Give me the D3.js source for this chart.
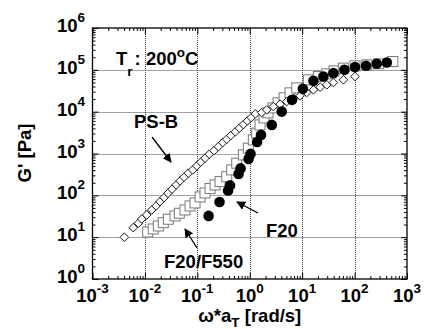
<!DOCTYPE html>
<html><head><meta charset="utf-8">
<script src="https://cdn.jsdelivr.net/npm/d3@7"></script>
<style>body{margin:0;background:#fff}svg{display:block}</style>
</head><body>
<script>
// PS-B (open diamonds)
const psbX = [0.00405,0.0060,0.0075,0.0087,0.0108,0.0135,0.0163,0.0194,0.0232,0.0276,0.0329,0.0393,0.0468,0.0557,0.0673,0.0817,0.0975,0.116,0.140,0.169,0.208,0.252,0.305,0.364,0.434,0.531,0.634,0.755,0.900,1.07,1.28,1.69,2.11,2.82,3.79,5.08,6.79,9.12,12.2,16.4,22.0,29.5,39.4,61.1,102];
const psbY = [9.95,16.9,21.5,27.2,34,44.7,55.7,70.7,88,112,140,177,221,271,338,405,505,620,772,962,1173,1462,1823,2198,2680,3289,4027,4912,6026,7228,8850,9510,11050,13240,15100,17450,20570,23880,28650,33240,38550,43750,49660,57680,69180];
// F20/F550 (open squares)
const f550X = [0.0113,0.0144,0.0180,0.0224,0.0280,0.0375,0.0453,0.0582,0.0726,0.0904,0.113,0.140,0.175,0.218,0.271,0.364,0.453,0.565,0.755,0.940,1.17,1.36,1.57,1.87,2.23,2.79,3.47,4.52,5.87,7.89,13.1,20.4,29.5,40.6,61.1,102,171,284,536];
const f550Y = [13.3,15.7,18.5,22.2,26.8,32.2,37.3,44.7,55.8,65.8,91.6,114,146,177,213,280,405,586,926,1340,2115,3061,4831,7110,9360,12330,16240,21380,28170,37090,57650,69180,80190,94600,109900,124700,131800,139200,158000];
// F20 (filled circles)
const f20X = [0.164,0.265,0.386,0.421,0.611,0.667,0.948,1.035,1.38,1.64,2.63,4.08,6.41,10.3,16.4,25.4,39.4,63.8,102,166,265,412];
const f20Y = [32.2,69.5,131,173,325,440,743,978,1895,2786,4831,10050,19150,35090,54580,69180,83370,100000,116100,124700,139200,149500];
const xTickExps = [-3,-2,-1,0,1,2,3];
const yTickExps = [0,1,2,3,4,5,6];

const W = 424, H = 329;
const L = 92.5, R = 407, T = 28, B = 279;
const FONT = "'Liberation Sans', Arial, sans-serif";
const FS = 18.5, FSS = 13.5;
const svg = d3.select("body").append("svg").attr("width", W).attr("height", H)
  .style("font-family", FONT).style("font-weight", "bold");

const x = d3.scaleLog().domain([1e-3, 1e3]).range([L, R]);
const y = d3.scaleLog().domain([1, 1e6]).range([B, T]);

function minors(lo, hi) {
  const out = [];
  for (let e = lo; e < hi; e++) for (let m = 2; m <= 9; m++) out.push(m * Math.pow(10, e));
  return out;
}
const xMinor = minors(-3, 3), yMinor = minors(0, 6);
const xMajor = xTickExps.map(e => Math.pow(10, e)), yMajor = yTickExps.map(e => Math.pow(10, e));

// grid
const grid = svg.append("g").attr("stroke", "#444").attr("stroke-width", 1).attr("stroke-dasharray", "1,1");
grid.selectAll("line.gx").data(xMajor.slice(1, -1)).join("line")
  .attr("x1", d => Math.round(x(d)) + 0.5).attr("x2", d => Math.round(x(d)) + 0.5).attr("y1", T).attr("y2", B);
grid.selectAll("line.gy").data(yMajor.slice(1, -1)).join("line")
  .attr("y1", d => Math.round(y(d)) + 0.5).attr("y2", d => Math.round(y(d)) + 0.5).attr("x1", L).attr("x2", R);

// ticks (inward, all four sides)
function addAxis(axisFn, scale, vals, size, tr) {
  const g = svg.append("g").attr("transform", tr)
    .call(axisFn(scale).tickValues(vals).tickSize(-size).tickFormat(""));
  g.select(".domain").remove();
  g.selectAll("line").attr("stroke", "#000");
}
[[d3.axisBottom, x, `translate(0,${B})`], [d3.axisTop, x, `translate(0,${T})`]].forEach(([f, s, tr]) => {
  addAxis(f, s, xMinor, 3, tr); addAxis(f, s, xMajor, 6, tr);
});
[[d3.axisLeft, y, `translate(${L},0)`], [d3.axisRight, y, `translate(${R},0)`]].forEach(([f, s, tr]) => {
  addAxis(f, s, yMinor, 3, tr); addAxis(f, s, yMajor, 6, tr);
});
svg.append("rect").attr("x", L).attr("y", T).attr("width", R - L).attr("height", B - T)
  .attr("fill", "none").attr("stroke", "#000").attr("stroke-width", 1.3);

// tick labels
const xl = svg.append("g");
xTickExps.forEach(e => {
  const t = xl.append("text").attr("x", x(Math.pow(10, e))).attr("y", 302).attr("text-anchor", "middle")
    .attr("font-size", FS);
  t.append("tspan").text("10");
  t.append("tspan").attr("dy", -9.5).attr("font-size", FSS).text(String(e));
});
yTickExps.forEach(e => {
  const t = xl.append("text").attr("x", 85).attr("y", y(Math.pow(10, e)) + 4).attr("text-anchor", "end")
    .attr("font-size", FS);
  t.append("tspan").text("10");
  t.append("tspan").attr("dy", -10).attr("font-size", FSS).text(String(e));
});

// axis titles
const xt = svg.append("text").attr("x", (L + R) / 2).attr("y", 322).attr("text-anchor", "middle").attr("font-size", FS);
xt.append("tspan").text("\u03C9*a");
xt.append("tspan").attr("dy", 5).attr("font-size", FSS).text("T");
xt.append("tspan").attr("dy", -5).text(" [rad/s]");
svg.append("text").attr("transform", "translate(31,153) rotate(-90)").attr("text-anchor", "middle")
  .attr("font-size", FS).text("G' [Pa]");

// data
const sq = 10;
svg.append("g").selectAll("rect").data(f550X.map((d, i) => [d, f550Y[i]])).join("rect")
  .attr("x", d => x(d[0]) - sq / 2).attr("y", d => y(d[1]) - sq / 2).attr("width", sq).attr("height", sq)
  .attr("fill", "#fff").attr("stroke", "#777").attr("stroke-width", 1);
const dm = 4.3;
svg.append("g").selectAll("path").data(psbX.map((d, i) => [d, psbY[i]])).join("path")
  .attr("d", d => { const cx = x(d[0]), cy = y(d[1]); return `M${cx},${cy - dm}L${cx + dm},${cy}L${cx},${cy + dm}L${cx - dm},${cy}Z`; })
  .attr("fill", "#fff").attr("stroke", "#000").attr("stroke-width", 0.9);
svg.append("g").selectAll("circle").data(f20X.map((d, i) => [d, f20Y[i]])).join("circle")
  .attr("cx", d => x(d[0])).attr("cy", d => y(d[1])).attr("r", 5.3).attr("fill", "#000");

// annotations
svg.append("defs").append("marker").attr("id", "ah").attr("viewBox", "0 0 10 10").attr("refX", 9).attr("refY", 5)
  .attr("markerWidth", 9).attr("markerHeight", 9).attr("markerUnits", "userSpaceOnUse").attr("orient", "auto")
  .append("path").attr("d", "M0,0L10,5L0,10Z").attr("fill", "#000");
function arrow(x1, y1, x2, y2) {
  svg.append("line").attr("x1", x1).attr("y1", y1).attr("x2", x2).attr("y2", y2)
    .attr("stroke", "#000").attr("stroke-width", 1.3).attr("marker-end", "url(#ah)");
}
svg.append("text").attr("x", 134).attr("y", 128).attr("font-size", FS).text("PS-B");
arrow(152, 137, 171, 162);
svg.append("text").attr("x", 266).attr("y", 237).attr("font-size", FS).text("F20");
arrow(258, 213, 237, 202);
svg.append("text").attr("x", 164).attr("y", 268).attr("font-size", FS).text("F20/F550");
arrow(197, 248, 185, 229);
const tt = svg.append("text").attr("x", 116).attr("y", 65).attr("font-size", FS);
tt.append("tspan").text("T");
tt.append("tspan").attr("dy", 11).attr("font-size", FSS).text("r");
tt.append("tspan").attr("dy", -11).attr("dx", 2).text(": 200");
tt.append("tspan").attr("dy", -8).attr("font-size", FSS).text("o");
tt.append("tspan").attr("dy", 8).text("C");
</script>
</body></html>
